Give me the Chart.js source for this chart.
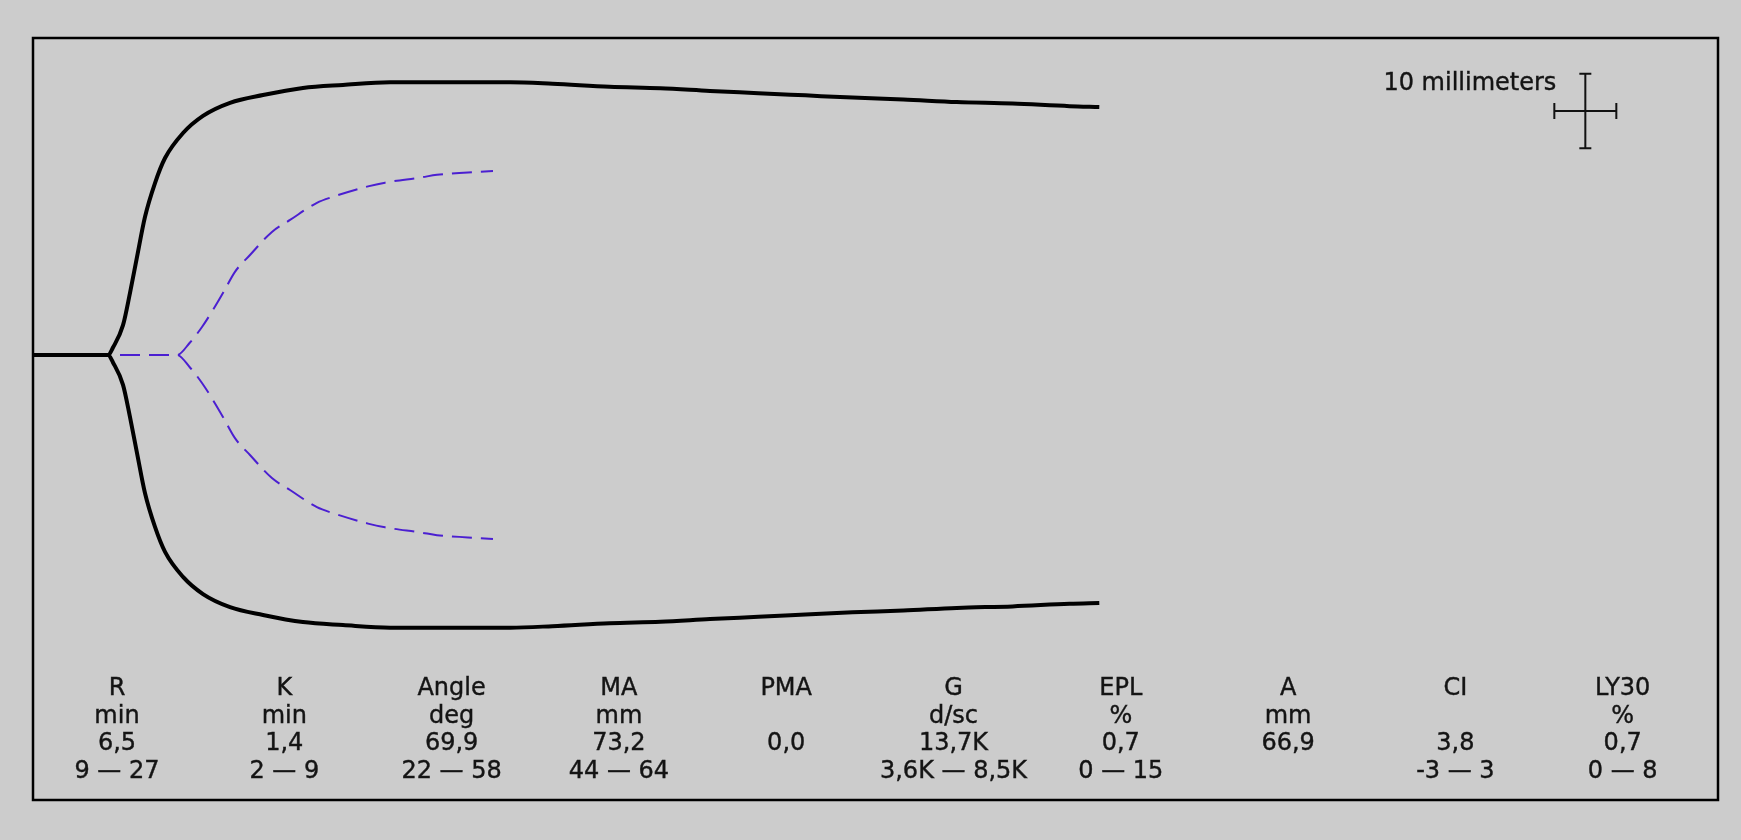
<!DOCTYPE html>
<html lang="en">
<head>
    <meta charset="UTF-8">
    <meta name="viewport" content="width=device-width, initial-scale=1.0">
    <title>TEG Tracing</title>
    <style>
        body {
            margin: 0;
            padding: 0;
            background-color: #cccccc;
            overflow: hidden;
        }
        .chart-box {
            width: 1741px;
            height: 840px;
        }
    </style>
</head>
<body>

    <div class="chart-box">
        <canvas id="tegChart" width="1741" height="840"></canvas>
    </div>

    <script src="https://cdn.jsdelivr.net/npm/chart.js"></script>
    <script>
        // Trace data: time in minutes, full amplitude in millimeters
        const sampleTime = [0, 6.05, 6.45, 7.26, 7.82, 8.39, 9.03, 9.84, 10.65, 12.10, 13.71, 15.89, 18.55, 21.77, 25.0, 28.8, 38.5, 41.9, 46.5, 50.6, 54.6, 58.5, 62.3, 66.1, 70.2, 74.5, 79.0, 83.6, 86.0];
        const sampleAmp = [0, 0, 2.0, 8.0, 16.6, 26.3, 37.0, 46.1, 52.8, 59.5, 64.1, 67.6, 69.7, 71.6, 72.4, 73.1, 73.1, 72.7, 71.9, 71.5, 70.8, 70.2, 69.6, 69.0, 68.5, 67.8, 67.4, 66.7, 66.5];

        const refTime = [0, 11.61, 12.66, 13.63, 14.52, 15.32, 16.29, 17.50, 19.27, 20.73, 22.90, 24.19, 27.02, 28.39, 31.29, 32.58, 35.08, 37.10];
        const refAmp = [0, 0, 3.35, 7.5, 12.1, 16.6, 22.3, 26.8, 33.0, 36.2, 40.8, 42.4, 45.2, 46.2, 47.6, 48.3, 48.9, 49.3];

        // Parameter table under the trace
        const paramNames = ['R', 'K', 'Angle', 'MA', 'PMA', 'G', 'EPL', 'A', 'CI', 'LY30'];
        const paramUnits = ['min', 'min', 'deg', 'mm', '', 'd/sc', '%', 'mm', '', '%'];
        const paramValues = ['6,5', '1,4', '69,9', '73,2', '0,0', '13,7K', '0,7', '66,9', '3,8', '0,7'];
        const paramRanges = ['9 \u2014 27', '2 \u2014 9', '22 \u2014 58', '44 \u2014 64', '', '3,6K \u2014 8,5K', '0 \u2014 15', '', '-3 \u2014 3', '0 \u2014 8'];

        // Scale bar: 10 mm tall, 5 min wide
        const scaleBarLabel = '10 millimeters';
        const scaleBarCenter = [125.2, 32.7];

        function half(times, amps, sign) {
            return times.map((t, i) => ({ x: t, y: sign * amps[i] / 2 }));
        }

        const textFont = '24px "DejaVu Sans", Verdana, sans-serif';

        function darkText(ctx, str, x, y) {
            ctx.fillText(str, x, y);
            ctx.strokeText(str, x, y);
        }

        const framePlugin = {
            id: 'frame',
            beforeDatasetsDraw(chart) {
                const { ctx, chartArea: a } = chart;
                ctx.save();
                ctx.strokeStyle = '#000';
                ctx.lineWidth = 2.5;
                ctx.strokeRect(a.left, a.top, a.right - a.left, a.bottom - a.top);
                ctx.restore();
            },
            afterDraw(chart) {
                const { ctx, chartArea: a, scales } = chart;
                const xs = scales.x, ys = scales.y;
                ctx.save();
                ctx.fillStyle = '#141414';
                ctx.strokeStyle = '#141414';
                ctx.lineWidth = 0.4;
                ctx.font = textFont;
                ctx.textAlign = 'center';
                ctx.textBaseline = 'alphabetic';
                const rows = [paramNames, paramUnits, paramValues, paramRanges];
                const rowOffsets = [105, 77.5, 50, 22];
                for (let i = 0; i < paramNames.length; i++) {
                    const cx = a.left + 84 + i * 167.3;
                    rows.forEach((row, r) => {
                        if (row[i]) darkText(ctx, row[i], cx, a.bottom - rowOffsets[r]);
                    });
                }

                // scale cross
                const cx = xs.getPixelForValue(scaleBarCenter[0]);
                const cy = ys.getPixelForValue(scaleBarCenter[1]);
                const top = ys.getPixelForValue(scaleBarCenter[1] + 5);
                const bot = ys.getPixelForValue(scaleBarCenter[1] - 5);
                const lft = xs.getPixelForValue(scaleBarCenter[0] - 2.5);
                const rgt = xs.getPixelForValue(scaleBarCenter[0] + 2.5);
                ctx.strokeStyle = '#111';
                ctx.lineWidth = 2;
                ctx.beginPath();
                ctx.moveTo(cx, top); ctx.lineTo(cx, bot);
                ctx.moveTo(cx - 6, top); ctx.lineTo(cx + 6, top);
                ctx.moveTo(cx - 6, bot); ctx.lineTo(cx + 6, bot);
                ctx.moveTo(lft, cy); ctx.lineTo(rgt, cy);
                ctx.moveTo(lft, cy - 8); ctx.lineTo(lft, cy + 8);
                ctx.moveTo(rgt, cy - 8); ctx.lineTo(rgt, cy + 8);
                ctx.stroke();

                ctx.textAlign = 'right';
                ctx.strokeStyle = '#141414';
                ctx.lineWidth = 0.4;
                darkText(ctx, scaleBarLabel, lft + 2, top + 16);
                ctx.restore();
            }
        };

        const lineStyle = {
            pointRadius: 0,
            fill: false,
            cubicInterpolationMode: 'monotone'
        };

        const ctx = document.getElementById('tegChart').getContext('2d');
        const tegChart = new Chart(ctx, {
            type: 'line',
            data: {
                datasets: [
                    Object.assign({ data: half(sampleTime, sampleAmp, 1), borderColor: '#000', borderWidth: 4 }, lineStyle),
                    Object.assign({ data: half(sampleTime, sampleAmp, -1), borderColor: '#000', borderWidth: 4 }, lineStyle),
                    Object.assign({ data: half(refTime, refAmp, 1), borderColor: '#4b1fd1', borderWidth: 2, borderDash: [20, 9] }, lineStyle),
                    Object.assign({ data: half(refTime, refAmp, -1), borderColor: '#4b1fd1', borderWidth: 2, borderDash: [20, 9] }, lineStyle)
                ]
            },
            options: {
                responsive: false,
                animation: false,
                layout: {
                    padding: { left: 33, right: 23, top: 38, bottom: 40 }
                },
                scales: {
                    x: { type: 'linear', min: 0, max: 135.9, display: false },
                    y: { type: 'linear', min: -59.65, max: 42.49, display: false }
                },
                plugins: {
                    legend: { display: false },
                    tooltip: { enabled: false }
                }
            },
            plugins: [framePlugin]
        });
    </script>
</body>
</html>
